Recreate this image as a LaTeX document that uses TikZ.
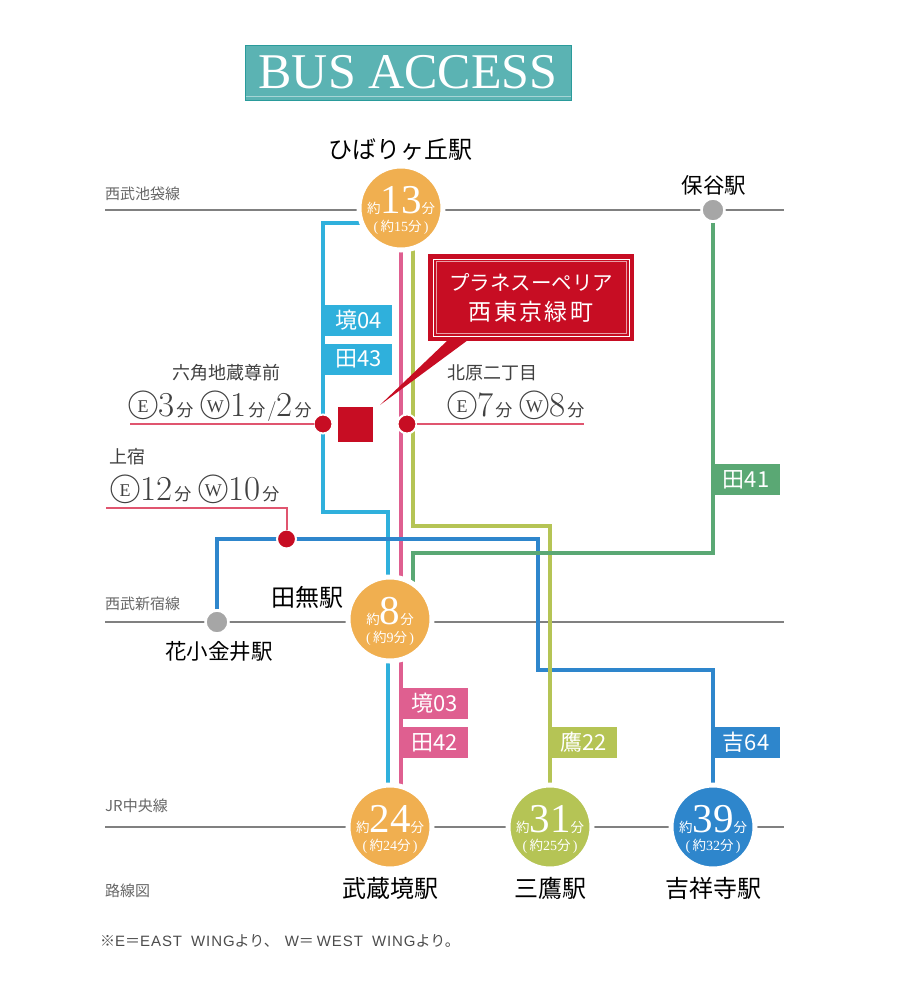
\documentclass[tikz,border=0pt]{standalone}
\usepackage{fontspec}
\newfontfamily\jp{Noto Sans CJK JP}
\newfontfamily\titlefont{Liberation Serif}
\newfontfamily\en[LetterSpace=6]{Liberation Sans}
\usetikzlibrary{backgrounds}
\definecolor{cyanbus}{HTML}{2FB0DC}
\definecolor{pinkbus}{HTML}{DF5F90}
\definecolor{olivebus}{HTML}{B5C455}
\definecolor{greenbus}{HTML}{5AA874}
\definecolor{bluebus}{HTML}{2E86CC}
\definecolor{orangestop}{HTML}{F0AF50}
\definecolor{redmark}{HTML}{C70D23}
\definecolor{redline}{HTML}{E0556F}
\definecolor{tealback}{HTML}{5BB3B3}
\definecolor{tealedge}{HTML}{2A9B9B}
\newcommand{\sz}[1]{\fontsize{#1}{#1}\selectfont}
\newcommand{\mins}[2]{\rule{0pt}{32pt}{\jp\sz{13.5}約}{\titlefont\sz{41}#1}{\jp\sz{13.5}分}\\{\titlefont\sz{14}(\,}{\jp\sz{13.5}約}{\titlefont\sz{14}#2}{\jp\sz{13.5}分}{\titlefont\sz{14}\,)}}
\newcommand{\dg}[1]{{\sz{35}#1}}
\newcommand{\fn}{\hspace{2pt}{\jp\sz{17}分}\hspace{2pt}}
\newcommand{\wing}[1]{\hspace{-2pt}\raisebox{-1pt}{\ooalign{{\jp\sz{32}○}\cr\hidewidth\raisebox{4.2pt}{\titlefont\sz{18}#1}\hidewidth\cr}}\hspace{-1pt}}
\begin{document}
\begin{tikzpicture}[x=1pt,y=-1pt]
	\tikzstyle{Banner} = [rectangle, minimum width=326pt, minimum height=55pt, inner sep=0pt, draw=tealedge, fill=tealback, line width=1pt, text=white, font=\titlefont\sz{50}]
	\tikzstyle{Stop} = [circle, minimum size=84pt, inner sep=-8pt, draw=white, line width=5pt, text=white, align=center, font=\sz{18}]
	\tikzstyle{Tag} = [rectangle, minimum width=67pt, minimum height=31pt, inner sep=0pt, text=white, font=\jp\sz{22}]
	\tikzstyle{Station} = [font=\jp\sz{24}, text=black, inner sep=0pt]
	\tikzstyle{Small} = [font=\jp\sz{21.5}, text=black, inner sep=0pt]
	\tikzstyle{LineName} = [anchor=west, font=\jp\sz{15}, text=black!60, inner sep=0pt]
	\tikzstyle{BusStop} = [font=\jp\sz{18}, text=black!75, inner sep=0pt]
	\tikzstyle{Times} = [anchor=base west, text=black!75, inner sep=0pt]
	\tikzstyle{RedDot} = [circle, minimum size=19pt, inner sep=0pt, outer sep=0pt, draw=white, line width=2pt, fill=redmark]
	\tikzstyle{GrayDot} = [circle, minimum size=23pt, inner sep=0pt, draw=white, line width=2.5pt, fill=black!35]
	\tikzstyle{rail} = [line width=2.8pt, black!50]
	\tikzstyle{bus} = [line width=4pt]
	\tikzstyle{walk} = [line width=2pt, redline]

	\useasboundingbox (0,0) rectangle (898,997);

	\node (title) [Banner] at (408,72.5) {BUS ACCESS};
	\draw [white!45!tealback, line width=0.6pt] (245.5,96.5) -- (570.5,96.5);

	% stops
	\node (hibari) [Stop, fill=orangestop] at (401,208) {\mins{13}{15}};
	\node (tanashi) [Stop, fill=orangestop] at (390,619) {\mins{8}{9}};
	\node (sakai) [Stop, fill=orangestop] at (390,827) {\mins{24}{24}};
	\node (mitaka) [Stop, fill=olivebus] at (550,827) {\mins{31}{25}};
	\node (kichijoji) [Stop, fill=bluebus] at (713,827) {\mins{39}{32}};
	\node (hoya) [GrayDot] at (713,210) {};
	\node (koganei) [GrayDot] at (217,622) {};

	% bus numbers
	\node (t1) [Tag, fill=cyanbus] at (358.5,320.5) {境04};
	\node (t2) [Tag, fill=cyanbus] at (358.5,359) {田43};
	\node (t3) [Tag, fill=pinkbus] at (434.5,703.5) {境03};
	\node (t4) [Tag, fill=pinkbus] at (434.5,742.5) {田42};
	\node (t5) [Tag, fill=greenbus] at (746,479.5) {田41};
	\node (t6) [Tag, fill=olivebus] at (583.5,742.5) {鷹22};
	\node (t7) [Tag, fill=bluebus] at (746,742.5) {吉64};

	% site
	\node (site) [rectangle, minimum size=35pt, inner sep=0pt, fill=redmark] at (355.5,424.5) {};
	\node (name) [rectangle, minimum width=206pt, minimum height=87pt, inner sep=0pt, fill=redmark, text=white, align=center] at (531,297.5) {{\jp\sz{20.5}プラネスーペリア}\\[9pt]{\jp\addfontfeature{LetterSpace=10}\sz{23}西東京緑町}};
	\draw [white, line width=1pt] (433,259) rectangle (629,336);
	\draw [white!60!redmark, line width=0.6pt] (436,261.5) rectangle (626.5,333.5);
	\coordinate (tipa) at (448,340);
	\coordinate (tipb) at (468,340);
	\coordinate (tipc) at (380,405);
	\fill [redmark] (tipa) -- (tipb) -- (tipc) -- cycle;

	% walking stops
	\node (rokkaku) [RedDot] at (323,424) {};
	\node (kitahara) [RedDot] at (407,424) {};
	\node (kamijuku) [RedDot] at (286.5,539) {};

	\coordinate (ikeL) at (105,210);
	\coordinate (ikeR) at (784,210);
	\coordinate (shinL) at (105,622);
	\coordinate (shinR) at (784,622);
	\coordinate (chuoL) at (105,827);
	\coordinate (chuoR) at (784,827);
	\coordinate (cy1) at (401,223);
	\coordinate (cy2) at (323,223);
	\coordinate (cy3) at (323,512);
	\coordinate (cy4) at (388,512);
	\coordinate (cy5) at (388,827);
	\coordinate (pk1) at (401,240);
	\coordinate (pk2) at (401,827);
	\coordinate (ol1) at (413,240);
	\coordinate (ol2) at (413,526);
	\coordinate (ol3) at (550,526);
	\coordinate (gr1) at (713,553);
	\coordinate (gr2) at (413,553);
	\coordinate (gr3) at (413,619);
	\coordinate (bl1) at (217,539);
	\coordinate (bl2) at (538,539);
	\coordinate (bl3) at (538,670);
	\coordinate (bl4) at (713,670);
	\coordinate (w1) at (130,424);
	\coordinate (w2) at (584,424);
	\coordinate (w3) at (106,508);
	\coordinate (w4) at (286.5,508);

	\begin{scope}[on background layer]
		\draw [rail] (ikeL) -- (ikeR);
		\draw [rail] (shinL) -- (shinR);
		\draw [rail] (chuoL) -- (chuoR);
		\draw [bus, cyanbus] (cy1) -- (cy2) -- (cy3) -- (cy4) -- (cy5);
		\draw [bus, pinkbus] (pk1) -- (pk2);
		\draw [bus, bluebus] (koganei) -- (bl1) -- (bl2) -- (bl3) -- (bl4) -- (kichijoji);
		\draw [bus, olivebus] (ol1) -- (ol2) -- (ol3) -- (mitaka);
		\draw [bus, greenbus] (hoya) -- (gr1) -- (gr2) -- (gr3);
	\end{scope}
	\draw [walk] (w1) -- (rokkaku.west);
	\draw [walk] (kitahara.east) -- (w2);
	\draw [walk] (w3) -- (w4) -- (kamijuku.north);

	% labels
	\node (l1) [LineName] at (105,194) {西武池袋線};
	\node (l2) [LineName] at (105,604) {西武新宿線};
	\node (l3) [LineName] at (105,806) {JR中央線};
	\node (l4) [LineName] at (105,891) {路線図};
	\node (s1) [Station] at (400,150) {ひばりヶ丘駅};
	\node (s2) [Small] at (714,185) {保谷駅};
	\node (s3) [Station] at (307,597) {田無駅};
	\node (s4) [Small] at (219,651) {花小金井駅};
	\node (s5) [Station] at (390,888) {武蔵境駅};
	\node (s6) [Station] at (550,888) {三鷹駅};
	\node (s7) [Station] at (713,888) {吉祥寺駅};
	\node (b1) [BusStop] at (226,373) {六角地蔵尊前};
	\node (b2) [BusStop] at (492,373) {北原二丁目};
	\node (b3) [BusStop] at (127,457) {上宿};
	\node (m1) [Times] at (129,416) {\wing{E}\dg{3}\fn\hspace{6pt}\wing{W}\dg{1}\fn{\sz{20}/}\dg{2}\fn};
	\node (m2) [Times] at (448,416) {\wing{E}\dg{7}\fn\hspace{6pt}\wing{W}\dg{8}\fn};
	\node (m3) [Times] at (111,500) {\wing{E}\dg{12}\fn\hspace{6pt}\wing{W}\dg{10}\fn};
	\node (note) [anchor=west, font=\en\sz{15}, text=black!70, inner sep=0pt] at (100,941) {{\jp※}E{\jp＝}EAST\hspace{4pt} WING{\jp より、}\hspace{6pt}W{\jp＝}\hspace{3pt}WEST\hspace{4pt} WING{\jp より。}};
\end{tikzpicture}
\end{document}
